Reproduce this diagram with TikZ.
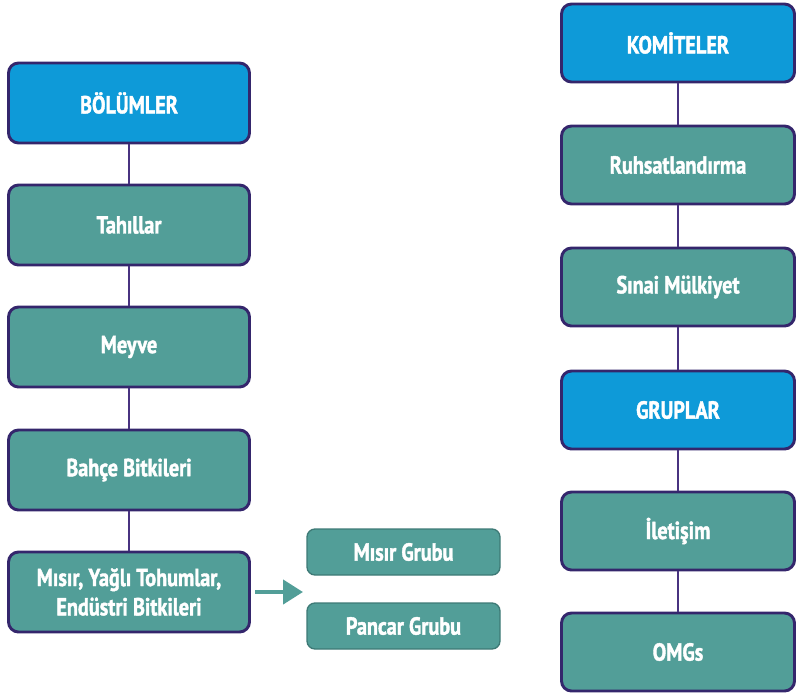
\documentclass[tikz,border=0pt]{standalone}
\usepackage{fontspec}
\setmainfont{PT Sans}[FakeStretch=0.82, BoldFeatures={FakeBold=1.6}]
\usetikzlibrary{arrows.meta}
\definecolor{hdrblue}{RGB}{14,154,216}
\definecolor{boxteal}{RGB}{82,158,152}
\definecolor{edgepurple}{RGB}{52,38,108}
\definecolor{linkpurple}{RGB}{72,50,128}
\definecolor{smalledge}{RGB}{62,122,118}
\tikzset{
  basebox/.style={rounded corners=7.5pt, draw=edgepurple, line width=2.2pt,
    text=white, font=\fontsize{18.5}{22}\selectfont\bfseries, align=center, inner sep=0pt},
  lbox/.style={basebox, minimum width=180.75pt, minimum height=60pt},
  rbox/.style={basebox, minimum width=174.75pt, minimum height=58.5pt},
  headfill/.style={fill=hdrblue},
  bodyfill/.style={fill=boxteal},
  sbox/.style={rounded corners=6pt, draw=smalledge, line width=1pt, fill=boxteal,
    text=white, font=\fontsize{18.5}{22}\selectfont\bfseries, inner sep=0pt,
    minimum width=144.75pt, minimum height=34.5pt},
  link/.style={draw=linkpurple, line width=1.5pt},
  flowarrow/.style={draw=boxteal, line width=3.2pt, -{Triangle[length=15pt,width=18pt]}}
}
\begin{document}
\begin{tikzpicture}[x=0.75pt,y=-0.75pt]
\useasboundingbox (0,0) rectangle (796,697);
% left column
\node[lbox,headfill] (b1) at (129,103) {BÖLÜMLER};
\node[lbox,bodyfill] (b2) at (129,225) {Tahıllar};
\node[lbox,bodyfill] (b3) at (129,347) {Meyve};
\node[lbox,bodyfill] (b4) at (129,470) {Bahçe Bitkileri};
\node[lbox,bodyfill] (b5) at (129,592) {Mısır, Yağlı Tohumlar,\\Endüstri Bitkileri};
\draw[link] (b1) -- (b2);
\draw[link] (b2) -- (b3);
\draw[link] (b3) -- (b4);
\draw[link] (b4) -- (b5);
% small boxes
\node[sbox] (s1) at (403.5,552) {Mısır Grubu};
\node[sbox] (s2) at (403.5,626) {Pancar Grubu};
\coordinate (astart) at (255,592);
\coordinate (aend) at (303,592);
\draw[flowarrow] (astart) -- (aend);
% right column
\node[rbox,headfill] (r1) at (678,43) {KOMİTELER};
\node[rbox,bodyfill] (r2) at (678,165) {Ruhsatlandırma};
\node[rbox,bodyfill] (r3) at (678,287) {Sınai Mülkiyet};
\node[rbox,headfill] (r4) at (678,410) {GRUPLAR};
\node[rbox,bodyfill] (r5) at (678,531) {İletişim};
\node[rbox,bodyfill] (r6) at (678,652) {OMGs};
\draw[link] (r1) -- (r2);
\draw[link] (r2) -- (r3);
\draw[link] (r3) -- (r4);
\draw[link] (r4) -- (r5);
\draw[link] (r5) -- (r6);
\end{tikzpicture}
\end{document}
